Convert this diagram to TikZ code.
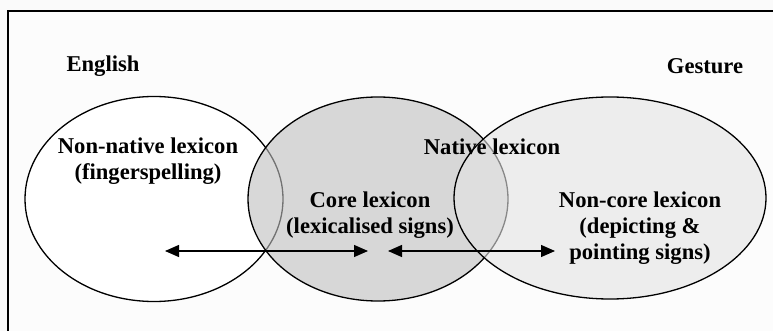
\documentclass[tikz,border=0pt]{standalone}
\usepackage{fontspec}
\setmainfont{Liberation Serif}
\usepackage{tikz}
\usetikzlibrary{shapes.geometric, arrows.meta}

\begin{document}
\begin{tikzpicture}[
  x=1pt, y=-1pt,
  every node/.style={font=\fontsize{22.6}{26}\selectfont\bfseries, align=center},
  region/.style={draw, ellipse, line width=1.3pt, inner sep=0pt, fill=#1},
  region/.default={white},
  arr/.style={{Triangle[length=14pt, width=12pt]}-{Triangle[length=14pt, width=12pt]}, line width=1.3pt},
]
  \clip (0,0) rectangle (773,331);
  \fill[black!2] (0,0) rectangle (773,331);
  % Frame
  \draw[line width=1.5pt, fill=black!1] (8,11) rectangle (790,350);

  % Regions
  \node[region, minimum width=258pt, minimum height=205pt] (english) at (154,199) {};
  \node[region=black!25, fill opacity=0.6, minimum width=260pt, minimum height=204pt] (native) at (378,199) {};
  \node[region=black!11, fill opacity=0.6, minimum width=312pt, minimum height=202pt] (gesture) at (610,198) {};

  % Labels
  \node (englishlbl) at (103,66) {English};
  \node (gesturelbl) at (705,66) {Gesture};
  \node (nonnative) at (148,161) {Non-native lexicon\\(fingerspelling)};
  \node (nativelbl) at (492,147) {Native lexicon};
  \node (core) at (370,215) {Core lexicon\\(lexicalised signs)};
  \node (noncore) at (640,228) {Non-core lexicon\\(depicting \&\\pointing signs)};

  % Arrows
  \coordinate (leftend) at (165,251);
  \coordinate (coreleft) at (368,251);
  \coordinate (coreright) at (388,251);
  \coordinate (rightend) at (555,251);
  \draw[arr] (leftend) -- (coreleft);
  \draw[arr] (coreright) -- (rightend);
\end{tikzpicture}
\end{document}
